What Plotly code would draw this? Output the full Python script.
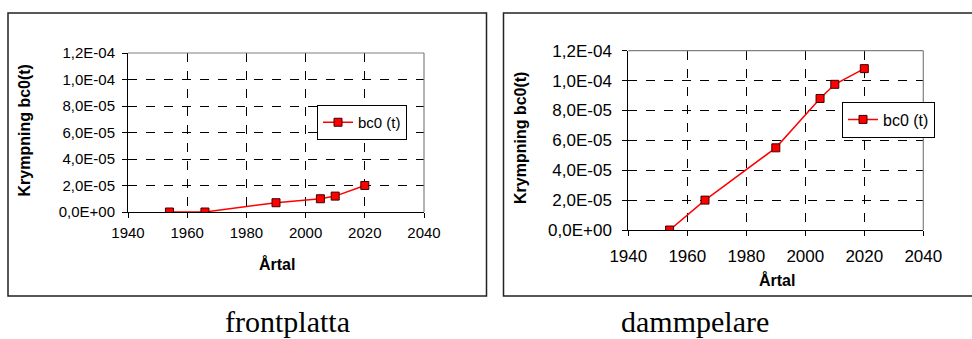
import plotly.graph_objects as go

W, H = 972, 339

years = [1954, 1966, 1990, 2005, 2010, 2020]
frontplatta_vals = [0.0, 0.0, 7.0e-6, 1.0e-5, 1.2e-5, 2.0e-5]
dammpelare_vals = [0.0, 2.0e-5, 5.5e-5, 8.8e-5, 9.75e-5, 1.08e-4]

x_ticks = [1940, 1960, 1980, 2000, 2020, 2040]
y_ticks = [0, 2e-5, 4e-5, 6e-5, 8e-5, 1.0e-4, 1.2e-4]
y_ticktext = ["0,0E+00", "2,0E-05", "4,0E-05", "6,0E-05", "8,0E-05", "1,0E-04", "1,2E-04"]

series_name = "bc0 (t)"
y_title = "Krympning bc0(t)"
x_title = "Årtal"
captions = ["frontplatta", "dammpelare"]

FONT = "Liberation Sans, Arial, sans-serif"
SERIF = "Liberation Serif, Times New Roman, serif"


def px(x):
    return x / W


def py(y):
    return 1 - y / H


fig = go.Figure()

marker = dict(symbol="square", size=8, color="#ff0000", line=dict(color="#400000", width=1))

fig.add_trace(go.Scatter(x=years, y=frontplatta_vals, mode="lines+markers", name=series_name,
                         line=dict(color="#ff0000", width=1.5), marker=marker,
                         xaxis="x", yaxis="y", legend="legend"))
fig.add_trace(go.Scatter(x=years, y=dammpelare_vals, mode="lines+markers", name=series_name,
                         line=dict(color="#ff0000", width=1.5), marker=marker,
                         xaxis="x2", yaxis="y2", legend="legend2"))

# plot areas in pixels (left, top, right, bottom)
areas = [(128, 53, 424, 212), (628.3, 50.7, 923.3, 230)]
tick_sizes = [15, 17]
x_standoff = [2, 6]
y_standoff = [4, 7]
legend_sizes = [15, 16]


def axis_common(size):
    return dict(
        showline=True, linecolor="black", linewidth=1,
        ticks="outside", ticklen=5, tickcolor="black", tickwidth=1,
        showgrid=True, gridcolor="black", griddash="dash", gridwidth=1,
        zeroline=False, automargin=False,
        tickfont=dict(family=FONT, size=size, color="black"),
    )


for i, (l, t, r, b) in enumerate(areas):
    sfx = "" if i == 0 else str(i + 1)
    xa = axis_common(tick_sizes[i])
    xa.update(domain=[px(l), px(r)], range=[1940, 2040], tickvals=x_ticks,
              anchor="y" + sfx, ticklabelstandoff=x_standoff[i])
    ya = axis_common(tick_sizes[i])
    ya.update(domain=[py(b), py(t)], range=[0, 1.2e-4], tickvals=y_ticks,
              ticktext=y_ticktext, anchor="x" + sfx, ticklabelstandoff=y_standoff[i])
    fig.update_layout(**{"xaxis" + sfx: xa, "yaxis" + sfx: ya})
    # gray plot-area frame (top and right)
    fig.add_shape(type="line", xref="x" + sfx + " domain", yref="y" + sfx + " domain",
                  x0=0, x1=1, y0=1, y1=1, line=dict(color="#808080", width=1.2))
    fig.add_shape(type="line", xref="x" + sfx + " domain", yref="y" + sfx + " domain",
                  x0=1, x1=1, y0=0, y1=1, line=dict(color="#808080", width=1.2))

# outer chart boxes
fig.add_shape(type="rect", xref="paper", yref="paper",
              x0=px(8), x1=px(486.5), y0=py(296), y1=py(13),
              line=dict(color="#222222", width=1.5))
fig.add_shape(type="rect", xref="paper", yref="paper",
              x0=px(503.5), x1=px(980), y0=py(296), y1=py(13),
              line=dict(color="#222222", width=1.5))


def ann(text, x, y, font, angle=0):
    return dict(text=text, x=px(x), y=py(y), xref="paper", yref="paper",
                xanchor="center", yanchor="middle", textangle=angle,
                showarrow=False, font=font)


bold16 = dict(family=FONT, size=16, color="black")
serif30 = dict(family=SERIF, size=30, color="black")

annotations = [
    ann("<b>" + y_title + "</b>", 23.5, 131, bold16, -90),
    ann("<b>" + y_title + "</b>", 520, 138, bold16, -90),
    ann("<b>" + x_title + "</b>", 277, 263.5, bold16),
    ann("<b>" + x_title + "</b>", 777, 280, bold16),
    ann(captions[0], 287, 321, serif30),
    ann(captions[1], 695, 321, serif30),
]


def legend_style(size):
    return dict(bgcolor="white", bordercolor="black", borderwidth=1,
                font=dict(family=FONT, size=size, color="black"),
                xanchor="left", yanchor="middle", tracegroupgap=0)


fig.update_layout(
    width=W, height=H,
    margin=dict(l=0, r=0, t=0, b=0, autoexpand=False),
    paper_bgcolor="white", plot_bgcolor="white",
    annotations=annotations,
    showlegend=True,
    legend=dict(x=px(317), y=py(122.5), **legend_style(legend_sizes[0])),
    legend2=dict(x=px(842), y=py(119.5), **legend_style(legend_sizes[1])),
)

fig.write_html("out.html", config={"displayModeBar": False},
               post_script="document.body.style.margin='0';document.body.style.overflow='hidden';")
